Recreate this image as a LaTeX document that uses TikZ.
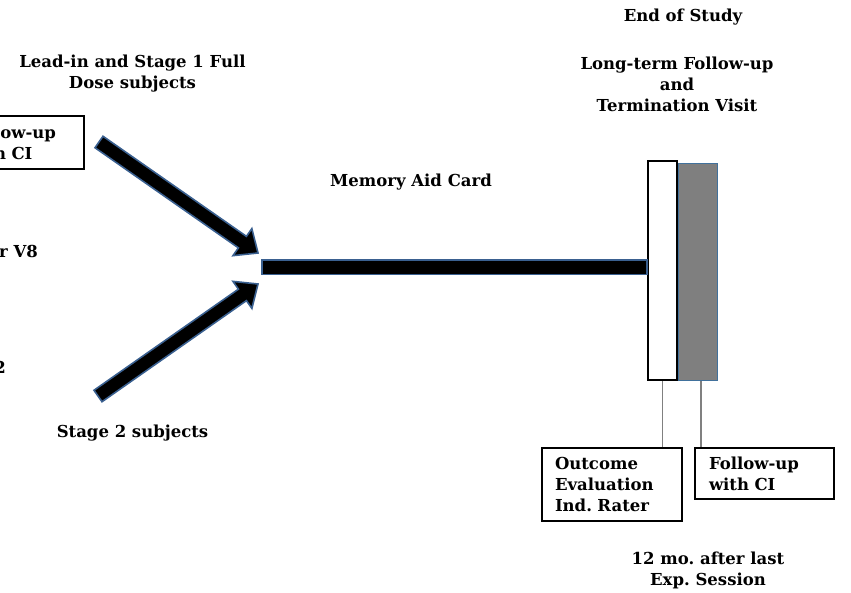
\documentclass[tikz,border=0pt]{standalone}
\usepackage{fontspec}
\setmainfont{DejaVu Serif}
\frenchspacing
\usetikzlibrary{calc}
\definecolor{outl}{HTML}{3A6090}
\definecolor{barblue}{HTML}{41719C}
\definecolor{linegray}{HTML}{808080}
\definecolor{barfill}{HTML}{7F7F7F}
\tikzset{
  x=1pt, y=-1pt,
  lbl/.style={font=\bfseries\fontsize{16.5}{21}\selectfont, align=center, inner sep=0pt},
  boxsty/.style={draw=black, line width=1.8pt, fill=white, font=\bfseries\fontsize{16.5}{21}\selectfont,
    align=left, inner xsep=13pt, inner ysep=0pt},
  fatarr/.style={fill=black, draw=outl, line width=1.6pt, line join=miter},
  whitebar/.style={draw=black, line width=2pt, fill=white, minimum width=29pt, minimum height=219pt, inner sep=0pt},
  graybar/.style={draw=barblue, line width=1.4pt, fill=barfill, minimum width=39pt, minimum height=217pt, inner sep=0pt},
  thinline/.style={draw=linegray, line width=1.2pt},
}
\newcommand\fatarrow[3]{%
  \coordinate (#3b) at ($(#2)!19pt!(#1)$);
  \draw[fatarr] ($(#1)!7pt!90:(#2)$) -- ($(#3b)!7pt!90:(#2)$) -- ($(#3b)!16.5pt!90:(#2)$)
    -- (#2) -- ($(#3b)!16.5pt!-90:(#2)$) -- ($(#3b)!7pt!-90:(#2)$) -- ($(#1)!7pt!-90:(#2)$) -- cycle;}
\begin{document}
\begin{tikzpicture}
\useasboundingbox (0,0) rectangle (851,593);
% texts
\node[lbl] (eos) at (683,17) {End of Study};
\node[lbl] (ltf) at (677,84) {Long-term Follow-up\\and\\Termination Visit};
\node[lbl] (lead) at (132.5,73.5) {Lead-in and Stage 1 Full\\Dose subjects};
\node[lbl] (mac) at (411,182) {Memory Aid Card};
\node[lbl] (s2) at (132.5,433) {Stage 2 subjects};
\node[lbl] (twelve) at (708,570.5) {12 mo. after last\\Exp. Session};
\node[lbl, anchor=west] (v8) at (-1,251) {r V8};
\node[lbl] (two) at (0,367) {2};
% left box (cropped)
\node[boxsty, text width=100pt, minimum width=136pt, minimum height=53pt, inner xsep=18pt] (lbox) at (16,142.5) {Follow-up\\with CI};
% arrows
\coordinate (t1) at (99,142);
\coordinate (h1) at (258,253);
\coordinate (t2) at (98,396);
\coordinate (h2) at (258,284);
\fatarrow{t1}{h1}{ua}
\fatarrow{t2}{h2}{la}
% bars
\node[graybar] (gb) at (698,272) {};
\node[whitebar] (wb) at (662.5,270.5) {};
\coordinate (hs) at (262,260);
\coordinate (he) at (0,274.5);
\draw[fatarr] (hs) rectangle (wb.west |- he);
% boxes
\node[boxsty, text width=114pt, minimum width=140pt, minimum height=73pt] (box1) at (612,484.5) {Outcome\\Evaluation\\Ind. Rater};
\node[boxsty, text width=111pt, minimum width=139pt, minimum height=51pt] (box2) at (764.5,473.5) {Follow-up\\with CI};
\coordinate (g1) at (701,381);
\draw[thinline] (wb.south) -- (wb.south |- box1.north);
\draw[thinline] (g1) -- (g1 |- box2.north);
\end{tikzpicture}
\end{document}
